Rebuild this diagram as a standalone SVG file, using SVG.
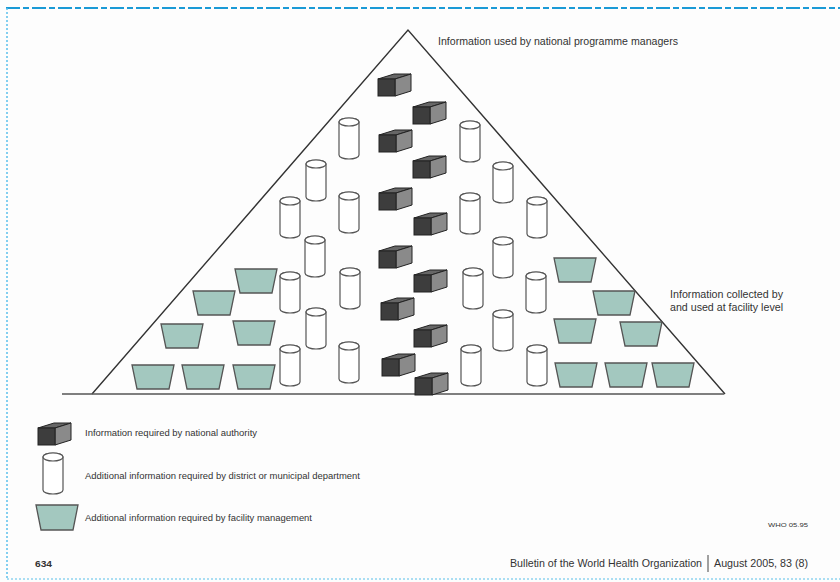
<svg xmlns="http://www.w3.org/2000/svg" xmlns:xlink="http://www.w3.org/1999/xlink" width="840" height="582" viewBox="0 0 840 582">
<style>
.txt{font-family:"Liberation Sans",Arial,sans-serif;fill:#333}
.cyl{fill:#fff;stroke:#555;stroke-width:1.2}
.trap{fill:#a3c8bf;stroke:#555;stroke-width:1.3}
.bf{fill:#3d3d3d;stroke:#222;stroke-width:1}
.bs{fill:#8a8a8a;stroke:#222;stroke-width:1}
.bt{fill:#666;stroke:#222;stroke-width:1}
</style>
<defs>
<g id="cyl">
<path class="cyl" d="M0,4 A10,4 0 0 1 20,4 V37 A10,4 0 0 1 0,37 Z"/>
<ellipse class="cyl" cx="10" cy="4" rx="10" ry="4"/>
</g>
<g id="trap"><polygon class="trap" points="0,0 42,0 37,24 5,24"/></g>
<g id="box">
<polygon class="bt" points="0,6 17,6 33,1 16,1"/>
<polygon class="bs" points="17,6 33,1 33,18 17,23"/>
<rect class="bf" x="0" y="6" width="17" height="17"/>
</g>
</defs>
<rect width="840" height="582" fill="#fdfdfd"/>
<g id="frame" fill="none">
<line x1="6" y1="8" x2="840" y2="8" stroke="#1a9ad6" stroke-width="2.2" stroke-dasharray="14,3,6,3"/>
<line x1="7" y1="8" x2="7" y2="579" stroke="#5bc0eb" stroke-width="1.5" stroke-dasharray="2,2"/>
<line x1="7" y1="579" x2="840" y2="579" stroke="#8fd3ef" stroke-width="1.5" stroke-dasharray="2,2"/>
</g>
<g id="pyramid">
<polyline points="92,394 408,30 725,394" fill="none" stroke="#333" stroke-width="1.4"/>
<line x1="62" y1="394" x2="724" y2="394" stroke="#555" stroke-width="1.6"/>
</g>
<g id="boxes">
<use id="box1" xlink:href="#box" x="378" y="73"/>
<use id="box2" xlink:href="#box" x="413" y="101"/>
<use id="box3" xlink:href="#box" x="379" y="129"/>
<use id="box4" xlink:href="#box" x="413" y="155"/>
<use id="box5" xlink:href="#box" x="379" y="187"/>
<use id="box6" xlink:href="#box" x="414" y="212"/>
<use id="box7" xlink:href="#box" x="379" y="245"/>
<use id="box8" xlink:href="#box" x="414" y="269"/>
<use id="box9" xlink:href="#box" x="381" y="297"/>
<use id="box10" xlink:href="#box" x="414" y="324"/>
<use id="box11" xlink:href="#box" x="382" y="353"/>
<use id="box12" xlink:href="#box" x="415" y="372"/>
</g>
<g id="cylinders">
<use id="cylL1" xlink:href="#cyl" x="339" y="118"/>
<use id="cylL2" xlink:href="#cyl" x="306" y="160"/>
<use id="cylL3" xlink:href="#cyl" x="280" y="197"/>
<use id="cylL4" xlink:href="#cyl" x="339" y="192"/>
<use id="cylL5" xlink:href="#cyl" x="305" y="236"/>
<use id="cylL6" xlink:href="#cyl" x="280" y="272"/>
<use id="cylL7" xlink:href="#cyl" x="340" y="268"/>
<use id="cylL8" xlink:href="#cyl" x="306" y="308"/>
<use id="cylL9" xlink:href="#cyl" x="280" y="345"/>
<use id="cylL10" xlink:href="#cyl" x="339" y="342"/>
<use id="cylR1" xlink:href="#cyl" x="460" y="121"/>
<use id="cylR2" xlink:href="#cyl" x="493" y="162"/>
<use id="cylR3" xlink:href="#cyl" x="460" y="193"/>
<use id="cylR4" xlink:href="#cyl" x="527" y="197"/>
<use id="cylR5" xlink:href="#cyl" x="493" y="237"/>
<use id="cylR6" xlink:href="#cyl" x="463" y="268"/>
<use id="cylR7" xlink:href="#cyl" x="526" y="272"/>
<use id="cylR8" xlink:href="#cyl" x="493" y="310"/>
<use id="cylR9" xlink:href="#cyl" x="461" y="345"/>
<use id="cylR10" xlink:href="#cyl" x="527" y="345"/>
</g>
<g id="trapezoids">
<use id="trL1" xlink:href="#trap" x="235" y="269"/>
<use id="trL2" xlink:href="#trap" x="193" y="291"/>
<use id="trL3" xlink:href="#trap" x="161" y="324"/>
<use id="trL4" xlink:href="#trap" x="233" y="321"/>
<use id="trL5" xlink:href="#trap" x="132" y="365"/>
<use id="trL6" xlink:href="#trap" x="182" y="365"/>
<use id="trL7" xlink:href="#trap" x="233" y="365"/>
<use id="trR1" xlink:href="#trap" x="554" y="258"/>
<use id="trR2" xlink:href="#trap" x="593" y="291"/>
<use id="trR3" xlink:href="#trap" x="554" y="319"/>
<use id="trR4" xlink:href="#trap" x="620" y="322"/>
<use id="trR5" xlink:href="#trap" x="555" y="363"/>
<use id="trR6" xlink:href="#trap" x="605" y="363"/>
<use id="trR7" xlink:href="#trap" x="652" y="363"/>
</g>
<g id="label-top"><text class="txt" x="438" y="45" font-size="11" textLength="240" lengthAdjust="spacingAndGlyphs">Information used by national programme managers</text></g>
<g id="label-right">
<text class="txt" x="670" y="298" font-size="10.5" textLength="113" lengthAdjust="spacingAndGlyphs">Information collected by</text>
<text class="txt" x="670" y="311" font-size="10.5" textLength="113" lengthAdjust="spacingAndGlyphs">and used at facility level</text>
</g>
<g id="legend-national">
<use xlink:href="#box" x="38" y="422"/>
<text class="txt" x="85" y="436" font-size="9" textLength="172" lengthAdjust="spacingAndGlyphs">Information required by national authority</text>
</g>
<g id="legend-district">
<use xlink:href="#cyl" x="43" y="453"/>
<text class="txt" x="85" y="479" font-size="9" textLength="275" lengthAdjust="spacingAndGlyphs">Additional information required by district or municipal department</text>
</g>
<g id="legend-facility">
<polygon class="trap" points="36,505 78,505 73,530 41,530"/>
<text class="txt" x="85" y="521" font-size="9" textLength="227" lengthAdjust="spacingAndGlyphs">Additional information required by facility management</text>
</g>
<g id="code"><text class="txt" x="768" y="527" font-size="6" textLength="40" lengthAdjust="spacingAndGlyphs">WHO 05.95</text></g>
<g id="footer">
<text class="txt" x="35" y="567" font-size="9.5" font-weight="bold" textLength="17" lengthAdjust="spacingAndGlyphs">634</text>
<text class="txt" x="510" y="567" font-size="10.5" textLength="192" lengthAdjust="spacingAndGlyphs">Bulletin of the World Health Organization</text>
<line x1="708" y1="555" x2="708" y2="572" stroke="#444" stroke-width="1"/>
<text class="txt" x="714" y="567" font-size="10.5" textLength="94" lengthAdjust="spacingAndGlyphs">August 2005, 83 (8)</text>
</g>
</svg>
